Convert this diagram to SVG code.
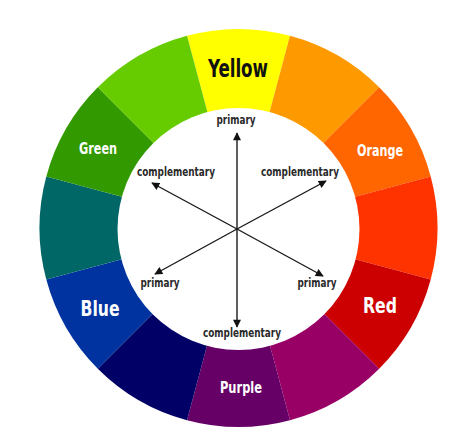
<svg xmlns="http://www.w3.org/2000/svg" width="474" height="447" viewBox="0 0 474 447">
<defs>
<style>
.big{font-family:"Liberation Sans Narrow","DejaVu Sans Condensed","Liberation Sans",sans-serif;font-weight:bold;text-anchor:middle}
.lbl{font-family:"Liberation Sans Narrow","DejaVu Sans Condensed","Liberation Sans",sans-serif;font-weight:bold;font-size:15px;fill:#ffffff;text-anchor:middle}
.in{font-family:"Liberation Sans Narrow","DejaVu Sans Condensed","Liberation Sans",sans-serif;font-weight:bold;font-size:11.5px;fill:#2a2a2a;text-anchor:middle}
.arr{stroke:#1a1a1a;stroke-width:1.4;fill:none;marker-end:url(#ah)}
</style>
<marker id="ah" viewBox="0 0 10 10" refX="9" refY="5" markerWidth="9" markerHeight="8" markerUnits="userSpaceOnUse" orient="auto">
<path d="M0,0 L10,5 L0,10 Z" fill="#111111"/>
</marker>
</defs>
<rect width="474" height="447" fill="#ffffff"/>
<g id="yellow"><path d="M238.5,228 L187.0,35.8 A199,199 0 0 1 290.0,35.8 Z" fill="#FFFF00"/>
<text class="big" x="238" y="77" font-size="25" fill="#111111" textLength="60" lengthAdjust="spacingAndGlyphs">Yellow</text></g>
<g id="yellow-orange"><path d="M238.5,228 L290.0,35.8 A199,199 0 0 1 379.2,87.3 Z" fill="#FF9900"/></g>
<g id="orange"><path d="M238.5,228 L379.2,87.3 A199,199 0 0 1 430.7,176.5 Z" fill="#FF6600"/>
<text class="lbl" x="380" y="156" textLength="46" lengthAdjust="spacingAndGlyphs">Orange</text></g>
<g id="red-orange"><path d="M238.5,228 L430.7,176.5 A199,199 0 0 1 430.7,279.5 Z" fill="#FF3300"/></g>
<g id="red"><path d="M238.5,228 L430.7,279.5 A199,199 0 0 1 379.2,368.7 Z" fill="#CC0000"/>
<text class="big" x="380" y="313" font-size="22" fill="#ffffff" textLength="34" lengthAdjust="spacingAndGlyphs">Red</text></g>
<g id="red-purple"><path d="M238.5,228 L379.2,368.7 A199,199 0 0 1 290.0,420.2 Z" fill="#990066"/></g>
<g id="purple"><path d="M238.5,228 L290.0,420.2 A199,199 0 0 1 187.0,420.2 Z" fill="#660066"/>
<text class="lbl" x="241" y="393" textLength="42" lengthAdjust="spacingAndGlyphs">Purple</text></g>
<g id="blue-purple"><path d="M238.5,228 L187.0,420.2 A199,199 0 0 1 97.8,368.7 Z" fill="#000066"/></g>
<g id="blue"><path d="M238.5,228 L97.8,368.7 A199,199 0 0 1 46.3,279.5 Z" fill="#0033A0"/>
<text class="big" x="100" y="316" font-size="22" fill="#ffffff" textLength="39" lengthAdjust="spacingAndGlyphs">Blue</text></g>
<g id="blue-green"><path d="M238.5,228 L46.3,279.5 A199,199 0 0 1 46.3,176.5 Z" fill="#006666"/></g>
<g id="green"><path d="M238.5,228 L46.3,176.5 A199,199 0 0 1 97.8,87.3 Z" fill="#339900"/>
<text class="lbl" x="98" y="154" textLength="38" lengthAdjust="spacingAndGlyphs">Green</text></g>
<g id="yellow-green"><path d="M238.5,228 L97.8,87.3 A199,199 0 0 1 187.0,35.8 Z" fill="#66CC00"/></g>
<g id="center"><circle cx="238.5" cy="229" r="121" fill="#ffffff"/>
<text class="in" x="236" y="124" textLength="39" lengthAdjust="spacingAndGlyphs">primary</text>
<text class="in" x="176" y="176" textLength="78" lengthAdjust="spacingAndGlyphs">complementary</text>
<text class="in" x="300" y="176" textLength="78" lengthAdjust="spacingAndGlyphs">complementary</text>
<text class="in" x="160" y="287" textLength="39" lengthAdjust="spacingAndGlyphs">primary</text>
<text class="in" x="317" y="287" textLength="39" lengthAdjust="spacingAndGlyphs">primary</text>
<text class="in" x="242" y="337" textLength="78" lengthAdjust="spacingAndGlyphs">complementary</text></g>
<g id="connectors">
<line class="arr" x1="237" y1="229" x2="237" y2="133"/>
<line class="arr" x1="237" y1="229" x2="237" y2="327"/>
<line class="arr" x1="237" y1="229" x2="152" y2="183"/>
<line class="arr" x1="237" y1="229" x2="323" y2="276"/>
<line class="arr" x1="237" y1="229" x2="326" y2="181"/>
<line class="arr" x1="237" y1="229" x2="155" y2="274"/>
</g>
</svg>
